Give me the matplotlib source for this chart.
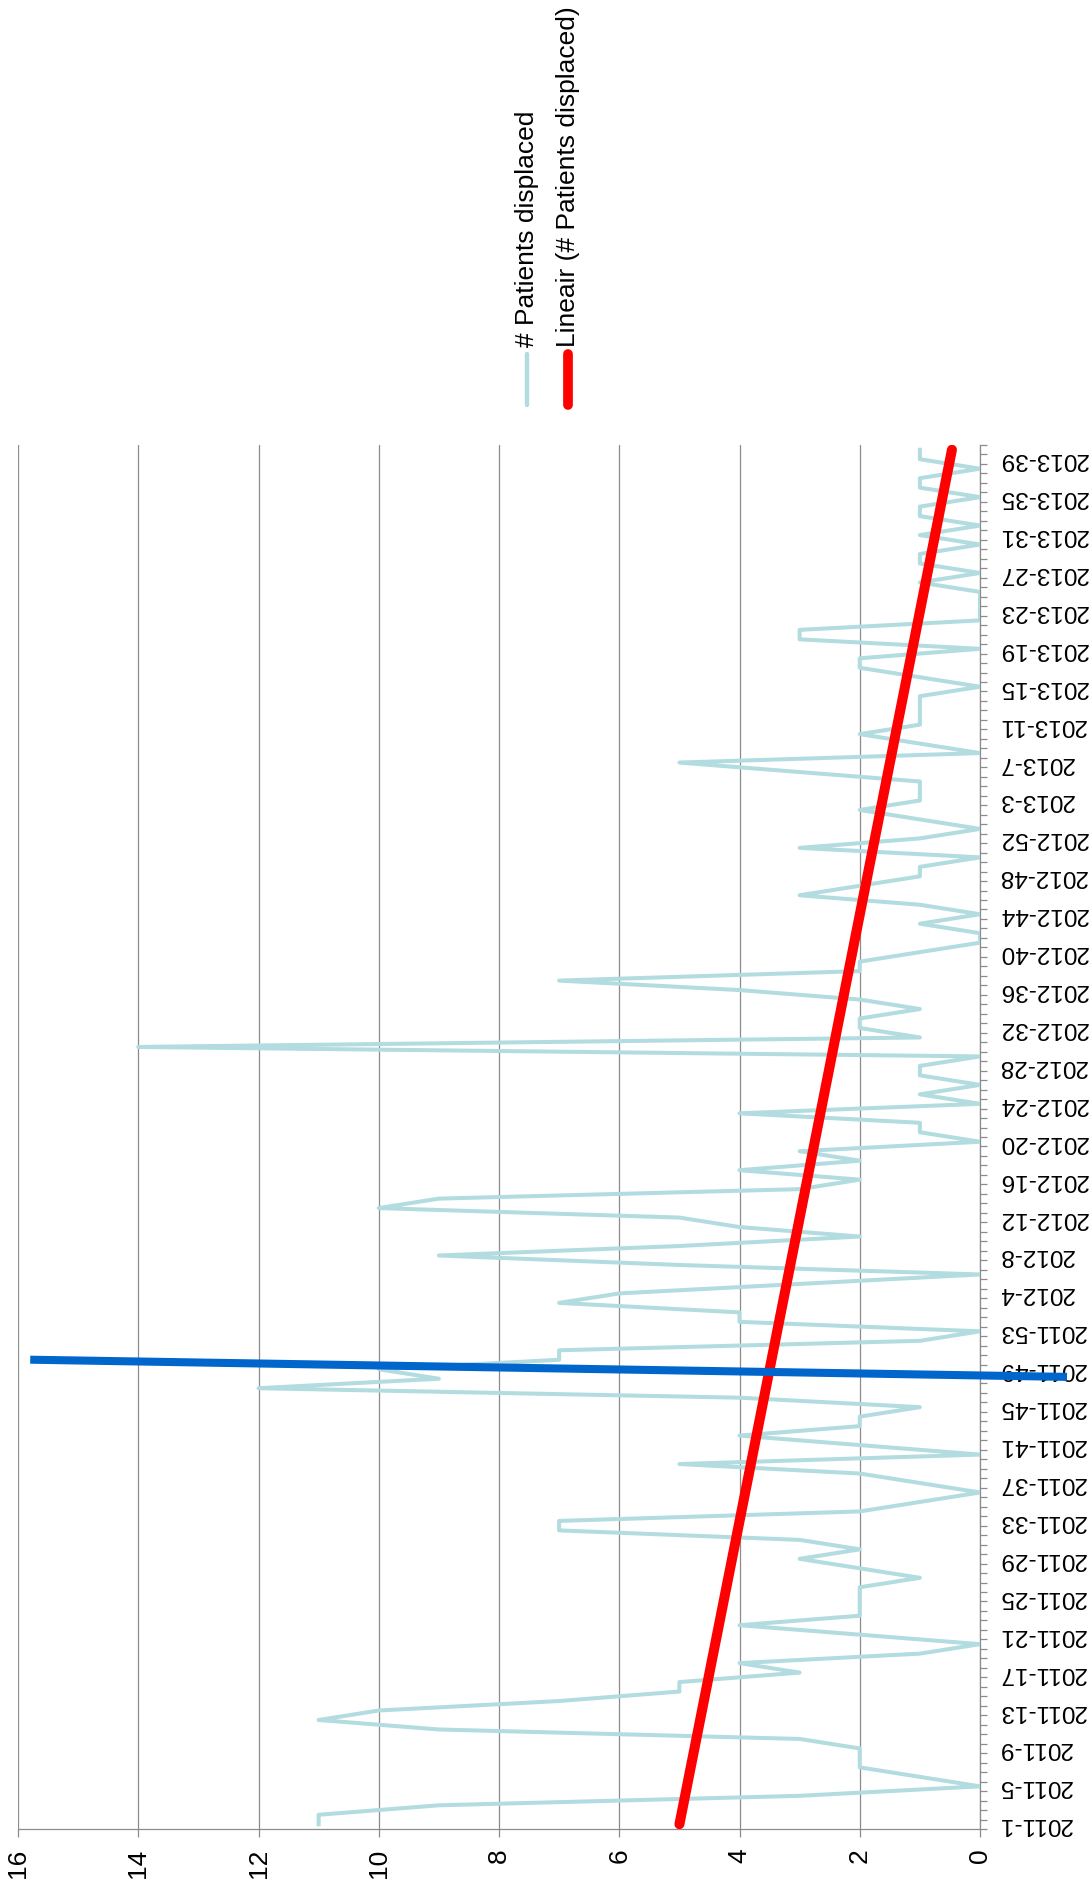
import numpy as np
import matplotlib.pyplot as plt
from matplotlib.lines import Line2D

plt.rcParams['font.family'] = ['Liberation Sans', 'DejaVu Sans']

# week labels: 2011 and 2012 have 53 weeks, 2013 runs up to week 40
weeks = ([f"2011-{w}" for w in range(1, 54)] +
         [f"2012-{w}" for w in range(1, 54)] +
         [f"2013-{w}" for w in range(1, 41)])

# patients displaced per week
displaced = [11, 11, 9, 3, 0, 1, 2, 2, 2, 3, 9, 11, 10, 7, 5, 5, 3, 4, 1, 0,
             2, 4, 2, 2, 2, 2, 1, 2, 3, 2, 3, 7, 7, 2, 1, 0, 1, 2, 5, 0,
             2, 4, 2, 2, 1, 4, 12, 9, 10, 7, 7, 1, 0, 4, 4, 7, 6, 3, 0, 5,
             9, 5, 2, 4, 5, 10, 9, 3, 2, 4, 2, 3, 0, 1, 1, 4, 0, 1, 0, 1,
             1, 0, 14, 1, 2, 2, 1, 2, 4, 7, 2, 2, 1, 0, 0, 1, 0, 1, 3, 2,
             1, 1, 0, 3, 1, 0, 1, 2, 1, 1, 1, 3, 5, 0, 1, 2, 1, 1, 1, 1,
             0, 1, 2, 2, 0, 3, 3, 0, 0, 0, 0, 1, 0, 1, 1, 0, 1, 0, 1, 1,
             0, 1, 1, 0, 1, 1]

value_ticks = [0, 2, 4, 6, 8, 10, 12, 14, 16]
series_name = "# Patients displaced"
trend_name = "Lineair (# Patients displaced)"

TEAL = '#b2dce0'
RED = '#ff0000'
BLUE = '#0066cc'
GRID = '#8c8c8c'

idx = np.arange(len(displaced))
slope, icpt = np.polyfit(idx, displaced, 1)
trend = slope * idx + icpt

W, H = 1089, 1895
fig = plt.figure(figsize=(W / 100, H / 100), dpi=100)
ax = fig.add_axes([18 / W, 1 - 1829 / H, 962 / W, (1829 - 445) / H])

# chart is turned on its side: values run right-to-left, weeks bottom-to-top
ax.plot(displaced, idx, color=TEAL, lw=2.9, zorder=3)
ax.plot(trend, idx, color=RED, lw=7.2, solid_capstyle='round', zorder=4)

ax.set_xlim(16, 0)
ax.set_ylim(-0.5, len(weeks) - 0.5)

ax.set_xticks(value_ticks)
ax.set_xticklabels([str(v) for v in value_ticks], rotation=90, fontsize=19)
ax.tick_params(axis='x', length=6, width=0.9, color=GRID, pad=8)
ax.grid(axis='x', color=GRID, lw=0.9)
ax.set_axisbelow(True)

ax.yaxis.tick_right()
lab_pos = list(range(0, len(weeks) - 1, 4))
ax.set_yticks(lab_pos)
ax.set_yticklabels([weeks[i] for i in lab_pos], rotation=180, fontsize=17.5,
                   va='center', ha='left')
ax.set_yticks(np.arange(-0.5, len(weeks), 1), minor=True)
ax.tick_params(axis='y', which='major', length=0, pad=13)
ax.tick_params(axis='y', which='minor', length=5, width=0.9, color=GRID)

for s in ['top', 'left']:
    ax.spines[s].set_visible(False)
for s in ['right', 'bottom']:
    ax.spines[s].set_color(GRID)
    ax.spines[s].set_linewidth(0.9)

# marker line drawn over the chart
ax.add_line(Line2D([15.73, -1.38], [49.0, 47.2], color=BLUE, lw=5.8,
                   clip_on=False, zorder=6))

# legend
for x, col, lw, name in [(527, TEAL, 3.2, series_name), (568, RED, 7.0, trend_name)]:
    fig.add_artist(Line2D([x / W, x / W], [1 - 405 / H, 1 - 354 / H], color=col,
                          lw=lw, solid_capstyle='round'))
    fig.text(x / W, 1 - 347 / H, name, rotation=90, ha='center', va='bottom',
             fontsize=19)

fig.savefig('out.png', dpi=100)
